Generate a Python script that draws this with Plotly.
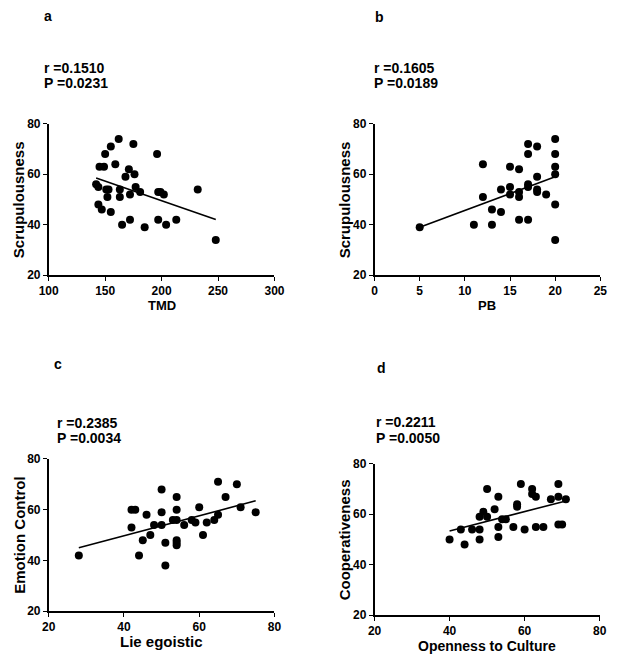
import plotly.graph_objects as go

W, H = 620, 663

# ---------------- data ----------------
tmd = [142, 144, 144, 147, 145, 149, 150, 155, 151, 153, 152, 155, 162, 159, 163, 163, 165,
       168, 171, 172, 172, 175, 176, 177, 181, 185, 196, 197, 199, 202, 197, 204, 213, 232, 248]
scrup_a = [56, 55, 48, 46, 63, 63, 68, 71, 54, 54, 51, 45, 74, 64, 54, 51, 40,
           59, 62, 52, 42, 72, 60, 55, 53, 39, 68, 53, 53, 52, 42, 40, 42, 54, 34]
fit_a_x = [142, 248]
fit_a_y = [58.5, 42.1]

pb = [5, 11, 12, 12, 13, 13, 14, 14, 15, 15, 15, 16, 16, 16, 16, 17, 17, 17, 17, 17,
      18, 18, 18, 18, 19, 20, 20, 20, 20, 20, 20]
scrup_b = [39, 40, 64, 51, 46, 40, 54, 45, 63, 55, 52, 62, 53, 51, 42, 72, 68, 56, 55, 42,
           71, 59, 54, 53, 52, 74, 68, 63, 60, 48, 34]
fit_b_x = [5, 20]
fit_b_y = [39, 59]

lie = [28, 42, 42, 43, 44, 45, 46, 47, 48, 50, 50, 50, 51, 51, 53, 54, 54, 54, 54, 54, 54,
       56, 58, 59, 60, 61, 62, 64, 65, 65, 67, 70, 71, 75]
emo = [42, 53, 60, 60, 42, 48, 58, 50, 54, 68, 59, 54, 47, 38, 56, 56, 65, 60, 48, 47, 46,
       54, 56, 55, 61, 50, 55, 56, 71, 58, 65, 70, 61, 59]
fit_c_x = [28, 75]
fit_c_y = [45, 63.5]

openness = [40, 43, 44, 46, 48, 48, 48, 49, 50, 50, 52, 53, 53, 53, 54, 55, 57, 58, 58, 59,
            60, 62, 62, 63, 63, 65, 67, 69, 69, 69, 70, 71]
coop = [50, 54, 48, 54, 59, 54, 50, 61, 70, 59, 62, 67, 55, 51, 58, 58, 55, 64, 63, 72,
        54, 70, 68, 67, 55, 55, 66, 72, 67, 56, 56, 66]
fit_d_x = [40, 71]
fit_d_y = [53.4, 65.3]

panel_letters = ["a", "b", "c", "d"]
r_texts = ["r =0.1510", "r =0.1605", "r =0.2385", "r =0.2211"]
p_texts = ["P =0.0231", "P =0.0189", "P =0.0034", "P =0.0050"]
x_titles = ["TMD", "PB", "Lie egoistic", "Openness to Culture"]
y_titles = ["Scrupulousness", "Scrupulousness", "Emotion Control", "Cooperativeness"]
x_ranges = [[100, 300], [0, 25], [20, 80], [20, 80]]
x_dticks = [50, 5, 20, 20]
y_range = [20, 80]
y_dtick = 20

# ---------------- layout geometry (pixels) ----------------
# (left, right, top, bottom) of each plot area
boxes = [(40, 273.3, 119.3, 274), (376.7, 610, 119.3, 274),
         (40, 273.3, 461.7, 617.3), (376.7, 609.3, 466.7, 621.3)]

FONT = "Liberation Sans, Arial, sans-serif"
fig = go.Figure()

series = [(tmd, scrup_a, fit_a_x, fit_a_y), (pb, scrup_b, fit_b_x, fit_b_y),
          (lie, emo, fit_c_x, fit_c_y), (openness, coop, fit_d_x, fit_d_y)]

for i, (xs, ys, fx, fy) in enumerate(series):
    ax = "" if i == 0 else str(i + 1)
    fig.add_trace(go.Scatter(x=xs, y=ys, mode="markers", xaxis="x" + ax, yaxis="y" + ax,
                             marker=dict(color="black", size=8), cliponaxis=False,
                             showlegend=False, hoverinfo="skip"))
    fig.add_trace(go.Scatter(x=fx, y=fy, mode="lines", xaxis="x" + ax, yaxis="y" + ax,
                             line=dict(color="black", width=1.6), cliponaxis=False,
                             showlegend=False, hoverinfo="skip"))

layout = dict(width=W, height=H, margin=dict(l=0, r=0, t=0, b=0), autosize=False,
              paper_bgcolor="white", plot_bgcolor="white", showlegend=False,
              font=dict(family=FONT, color="black"))

annotations = []
for i, (l, r, t, b) in enumerate(boxes):
    ax = "" if i == 0 else str(i + 1)
    xa = dict(domain=[l / W, r / W], range=x_ranges[i], dtick=x_dticks[i], tick0=0,
              anchor="y" + ax, showline=True, linecolor="black", linewidth=1.6,
              ticks="outside", ticklen=4, tickwidth=1.4, tickcolor="black",
              showgrid=False, zeroline=False, fixedrange=True,
              tickfont=dict(family=FONT, size=12, color="black", weight="bold"))
    ya = dict(domain=[1 - b / H, 1 - t / H], range=y_range, dtick=y_dtick, tick0=0,
              anchor="x" + ax, showline=True, linecolor="black", linewidth=1.6,
              ticks="outside", ticklen=4, tickwidth=1.4, tickcolor="black",
              showgrid=False, zeroline=False, fixedrange=True,
              tickfont=dict(family=FONT, size=12, color="black", weight="bold"))
    layout["xaxis" + ax] = xa
    layout["yaxis" + ax] = ya

# text positions (pixels)
letter_pos = [(33, 9), (375, 10), (43, 365), (377, 369)]
r_pos = [(33, 62), (374, 62), (46, 425), (376, 424)]
p_pos = [(33, 78), (374, 78), (46, 440), (376, 440)]
xt_y = [305, 305, 648, 653]
xt_size = [13, 13, 15, 14]
yt_x = [9, 346, 9, 346]

for i in range(4):
    l, r, t, b = boxes[i]
    annotations.append(dict(text=panel_letters[i], x=letter_pos[i][0] / W, y=1 - letter_pos[i][1] / H,
                            xref="paper", yref="paper", xanchor="left", yanchor="middle",
                            showarrow=False, font=dict(family=FONT, size=14, weight="bold")))
    annotations.append(dict(text=r_texts[i], x=r_pos[i][0] / W, y=1 - r_pos[i][1] / H,
                            xref="paper", yref="paper", xanchor="left", yanchor="middle",
                            showarrow=False, font=dict(family=FONT, size=14, weight="bold")))
    annotations.append(dict(text=p_texts[i], x=p_pos[i][0] / W, y=1 - p_pos[i][1] / H,
                            xref="paper", yref="paper", xanchor="left", yanchor="middle",
                            showarrow=False, font=dict(family=FONT, size=14, weight="bold")))
    annotations.append(dict(text=x_titles[i], x=(l + r) / 2 / W, y=1 - xt_y[i] / H,
                            xref="paper", yref="paper", xanchor="center", yanchor="middle",
                            showarrow=False, font=dict(family=FONT, size=xt_size[i], weight="bold")))
    annotations.append(dict(text=y_titles[i], x=yt_x[i] / W, y=1 - (t + b) / 2 / H,
                            xref="paper", yref="paper", xanchor="center", yanchor="middle",
                            textangle=-90, showarrow=False,
                            font=dict(family=FONT, size=15, weight="bold")))

layout["annotations"] = annotations
fig.update_layout(**layout)
fig.write_html("out.html", config={"displayModeBar": False},
               post_script="document.body.style.margin='0px';document.body.style.padding='0px';")
